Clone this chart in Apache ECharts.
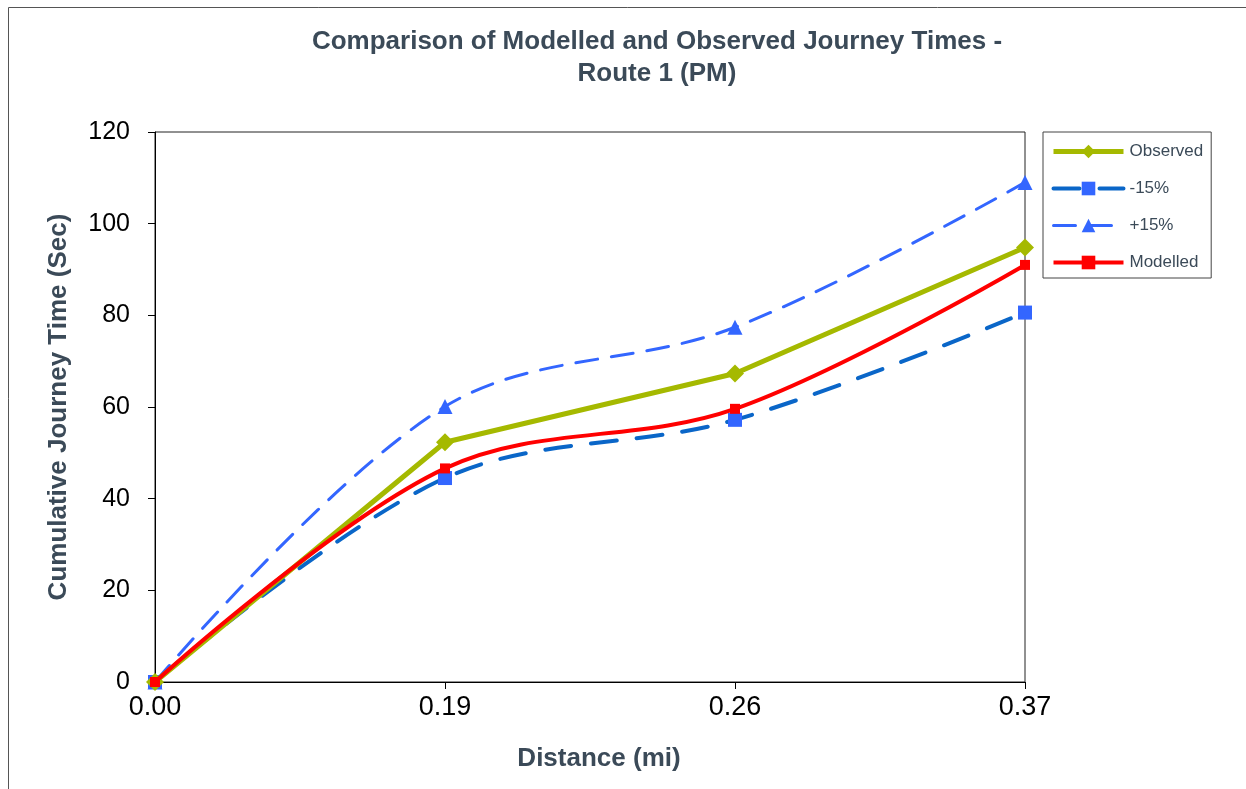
<!DOCTYPE html>
<html>
<head>
<meta charset="utf-8">
<script src="https://cdn.jsdelivr.net/npm/echarts@6/dist/echarts.min.js"></script>
<style>
html,body{margin:0;padding:0;background:#fff;}
#chart{width:1246px;height:789px;}
</style>
</head>
<body>
<div id="chart"></div>
<script>
const categories = ['0.00', '0.19', '0.26', '0.37'];
const observed = [0, 52.3, 67.3, 94.8];
const minus15 = [0, 44.5, 57.2, 80.6];
const plus15 = [0, 60.1, 77.4, 109.0];
const modelled = [0, 46.6, 59.6, 91.0];
const yTicks = {min: 0, max: 120, interval: 20};

const chart = echarts.init(document.getElementById('chart'));
const font = 'Liberation Sans, Arial, sans-serif';
const titleColor = '#3b4a58';

chart.setOption({
  animation: false,
  backgroundColor: '#fff',
  textStyle: {fontFamily: font},
  graphic: [{
    type: 'rect',
    shape: {x: 8.5, y: 7.5, width: 1260, height: 800},
    style: {fill: 'none', stroke: '#555', lineWidth: 1},
    silent: true
  }],
  title: {
    text: 'Comparison of Modelled and Observed Journey Times -\nRoute 1 (PM)',
    left: 652,
    top: 21,
    textAlign: 'center',
    textStyle: {fontFamily: font, fontSize: 26, fontWeight: 'bold', color: titleColor, lineHeight: 32}
  },
  legend: {
    orient: 'vertical',
    left: 1043,
    top: 132,
    width: 168,
    padding: [11, 8, 7, 8],
    itemWidth: 70,
    itemHeight: 17,
    itemGap: 20,
    borderColor: '#444',
    borderWidth: 1,
    lineStyle: {width: 'inherit'},
    textStyle: {fontFamily: font, fontSize: 17, color: titleColor, padding: [0,0,0,1]},
    data: ['Observed', '-15%', '+15%', 'Modelled']
  },
  grid: {
    left: 155, right: 221, top: 132, bottom: 107,
    show: true, borderColor: '#222', borderWidth: 1
  },
  xAxis: {
    type: 'category',
    data: categories,
    boundaryGap: false,
    name: 'Distance (mi)',
    nameLocation: 'middle',
    nameGap: 64,
    nameTextStyle: {fontFamily: font, fontSize: 26, fontWeight: 'bold', color: titleColor, padding: [0,0,0,18]},
    axisLine: {lineStyle: {color: '#000', width: 1}},
    axisTick: {show: true, length: 7, inside: false, alignWithLabel: true, lineStyle: {color: '#000'}},
    axisLabel: {fontFamily: font, fontSize: 27, color: '#000', margin: 12},
    splitLine: {show: false}
  },
  yAxis: {
    type: 'value',
    min: yTicks.min, max: yTicks.max, interval: yTicks.interval,
    name: 'Cumulative Journey Time (Sec)',
    nameLocation: 'middle',
    nameGap: 83,
    nameRotate: 90,
    nameTextStyle: {fontFamily: font, fontSize: 26, fontWeight: 'bold', color: titleColor},
    axisLine: {show: true, lineStyle: {color: '#000', width: 1}},
    axisTick: {show: true, length: 7, inside: false, lineStyle: {color: '#000'}},
    axisLabel: {fontFamily: font, fontSize: 25, color: '#000', margin: 25},
    splitLine: {show: false}
  },
  series: [
    {
      name: 'Observed', type: 'line', data: observed, smooth: false,
      symbol: 'diamond', symbolSize: 18,
      lineStyle: {color: '#a5b900', width: 5},
      itemStyle: {color: '#a5b900'},
      z: 3
    },
    {
      name: '-15%', type: 'line', data: minus15, smooth: 0.35,
      symbol: 'rect', symbolSize: 14,
      lineStyle: {color: '#0a66c8', width: 4, type: [26, 20], cap: 'round'},
      itemStyle: {color: '#3366ff'},
      z: 2
    },
    {
      name: '+15%', type: 'line', data: plus15, smooth: 0.35,
      symbol: 'triangle', symbolSize: 15,
      lineStyle: {color: '#3366ff', width: 3, type: [22, 14], cap: 'round'},
      itemStyle: {color: '#3366ff'},
      z: 2
    },
    {
      name: 'Modelled', type: 'line', data: modelled, smooth: 0.35,
      symbol: 'rect', symbolSize: 10,
      lineStyle: {color: '#ff0000', width: 4},
      itemStyle: {color: '#ff0000'},
      z: 4
    }
  ]
});
</script>
</body>
</html>
